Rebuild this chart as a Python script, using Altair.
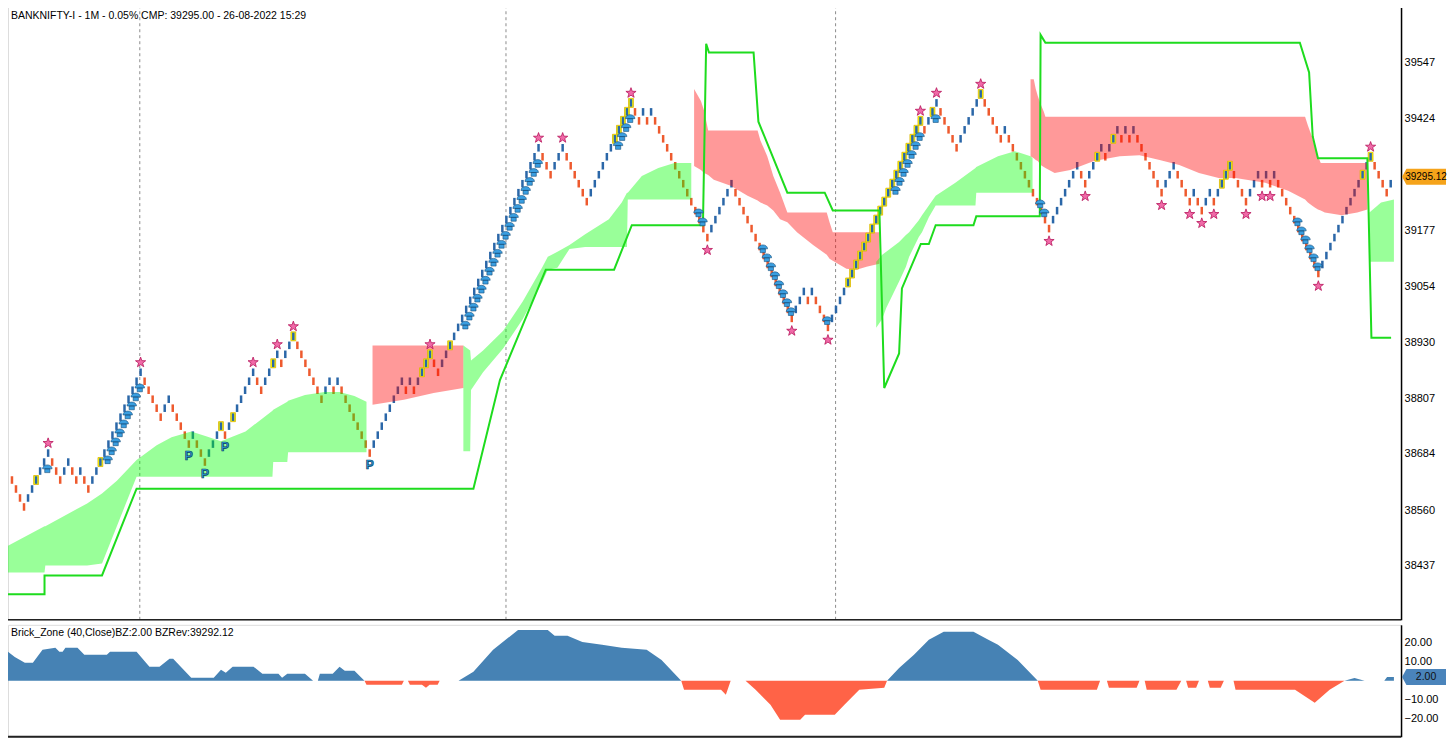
import altair as alt
import pandas as pd

# ---------------- layout ----------------
W = 1394
H_MAIN = 615
H_SUB = 112
X_DOMAIN = [-0.985, 345.57]
PRICE_DOMAIN = [38318.0, 39673.2]
BZ_DOMAIN = [-29.5, 29.5]
FONT = "Liberation Sans"

UP_COLOR = "#2b67a8"
DOWN_COLOR = "#ee5a2e"
GREEN = "#00ff00"
RED = "#ff0000"

# ---------------- text ----------------
TITLE_TEXT = "BANKNIFTY-I - 1M - 0.05% CMP: 39295.00 - 26-08-2022 15:29"
SUB_TEXT = "Brick_Zone (40,Close)BZ:2.00 BZRev:39292.12"
LAST_PRICE = [39295.12]
LAST_PRICE_LABEL = ["39295.12"]
LAST_BZ = [2.0]
LAST_BZ_LABEL = ["2.00"]
PRICE_TICKS = [38437, 38560, 38684, 38807, 38930, 39054, 39177, 39424, 39547]
BZ_TICKS = [-20, -10, 10, 20]

# ---------------- renko bricks ----------------
BRICK_SIZE = 19.8
BASE_PRICE = 38557.0
START_LEVEL = 5
RUN_LENGTHS = [-4, 6, -3, 2, -2, 1, -2, 13, -5, 2, -5, 1, -3, 4, -1, 7, -2, 4, -1, 3,
               -7, 2, -1, 1, -8, 8, -1, 1, -1, 4, -2, 25, -3, 3, -6, 11, -2, 1, -1, 1,
               -14, 6, -15, 3, -1, 1, -4, 23, -1, 3, -5, 6, -5, 1, -11, 7, -2, 4, -1, 3,
               -1, 1, -1, 1, -7, 3, -4, 1, -2, 2, -1, 4, -4, 3, -1, 1, -1, 1, -11, 13, -4, 1]
STAR_PIVOTS = [1, 7, 15, 17, 19, 29, 31, 33, 35, 40, 42, 46, 47, 49, 51, 54, 56, 64, 66,
               68, 70, 72, 74, 76, 78, 79]
P_PIVOTS = [10, 12, 14, 24]
UMBRELLA_BRICKS = [8, 23, 24, 25, 26, 27, 28, 29, 30, 31,
                   112, 113, 114, 115, 116, 117, 118, 119, 120, 121, 122, 123, 124, 125,
                   126, 127, 128, 129, 130, 150, 151, 152, 153, 171, 172,
                   187, 188, 189, 190, 191, 192, 193, 194, 203,
                   219, 220, 221, 222, 223, 224, 225, 229, 256, 257,
                   320, 321, 322, 323, 324, 325]
YELLOW_BRICKS = [6, 22, 52, 55, 65, 70, 102, 103, 104, 109, 150, 151, 152, 153, 154,
                 208, 209, 210, 211, 212, 213, 214, 215, 216, 217, 218, 219, 220, 221,
                 222, 223, 224, 225, 226, 229, 241, 270, 274, 301, 302, 303, 336, 338]
SESSION_BREAKS = [31.8, 122.9, 204.9]

# ---------------- zones ----------------
G1_IDX = [-1.0, 8.1, 8.3, 18.7, 22.4, 26.1, 31.0, 36.0, 39.7, 44.6, 48.3, 52.0, 58.1,
          64.8, 65.0, 68.5, 68.7, 72.9, 77.8, 81.5, 85.2, 88.2]
G1_TOP = [38481.1, 38524.6, 38524.6, 38574.7, 38596.4, 38624.7, 38670.4, 38703.0, 38720.4,
          38733.5, 38722.6, 38711.7, 38733.5, 38779.1, 38781.3, 38798.7, 38800.9, 38814.0,
          38820.5, 38820.5, 38811.8, 38798.7]
G1_BOT = [38422.4, 38422.4, 38437.6, 38437.6, 38442.0, 38524.6, 38633.4, 38633.4, 38633.4,
          38633.4, 38633.4, 38633.4, 38633.4, 38633.4, 38666.0, 38666.0, 38687.8, 38687.8,
          38687.8, 38687.8, 38687.8, 38687.8]

R1_IDX = [89.7, 97.5, 104.9, 112.3]
R1_TOP = [38922.7, 38922.7, 38922.7, 38922.7]
R1_BOT = [38792.2, 38803.1, 38818.3, 38829.2]

G2_IDX = [112.3, 114.0, 114.2, 117.2, 122.2, 127.1, 132.0, 133.3, 135.7, 138.7, 142.6,
          148.5, 151.7, 153.0, 153.2, 156.7, 160.8, 164.8, 169.0]
G2_TOP = [38922.7, 38911.8, 38890.1, 38911.8, 38955.4, 39020.6, 39096.7, 39118.5, 39129.4,
          39144.6, 39168.5, 39201.2, 39238.1, 39259.9, 39259.9, 39296.9, 39314.3, 39325.2,
          39325.2]
G2_BOT = [38690.0, 38690.0, 38824.8, 38864.0, 38916.2, 38981.5, 39064.1, 39090.2, 39094.6,
          39135.9, 39140.2, 39140.2, 39140.2, 39140.2, 39244.7, 39244.7, 39244.7, 39244.7,
          39244.7]

R2_IDX = [169.7, 171.4, 172.2, 173.2, 174.6, 178.8, 183.0, 185.5, 186.2, 187.9, 189.4,
          191.1, 192.9, 195.3, 199.3, 202.7, 203.4, 204.2, 207.6, 210.1, 212.6, 215.8]
R2_TOP = [39488.3, 39462.2, 39440.4, 39396.9, 39396.9, 39396.9, 39396.9, 39396.9, 39375.2,
          39340.4, 39296.9, 39259.9, 39216.4, 39216.4, 39216.4, 39216.4, 39194.6, 39172.9,
          39172.9, 39172.9, 39172.9, 39172.9]
R2_BOT = [39318.6, 39309.9, 39303.4, 39299.0, 39288.2, 39275.1, 39253.4, 39242.5, 39238.1,
          39231.6, 39220.7, 39201.2, 39194.6, 39172.9, 39144.6, 39122.9, 39114.1, 39109.8,
          39092.4, 39090.2, 39096.7, 39103.3]

G3_IDX = [215.0, 216.5, 217.5, 220.7, 222.4, 223.2, 225.6, 226.4, 228.1, 229.8, 234.7,
          239.7, 239.9, 240.4, 245.3, 249.5, 253.4, 253.9]
G3_TOP = [39107.6, 39122.8, 39129.4, 39151.1, 39166.4, 39172.9, 39199.0, 39209.9, 39231.6,
          39253.4, 39281.6, 39314.3, 39316.5, 39318.6, 39340.4, 39351.3, 39340.4, 39336.0]
G3_BOT = [38961.9, 38981.5, 39005.4, 39064.1, 39096.7, 39118.5, 39162.0, 39172.9, 39205.5,
          39231.6, 39231.6, 39231.6, 39259.9, 39259.9, 39259.9, 39259.9, 39259.9, 39259.9]

R3_IDX = [253.4, 254.2, 254.7, 255.2, 255.9, 256.7, 257.1, 259.4, 263.3, 269.2, 275.6,
          280.5, 285.5, 290.4, 295.3, 300.2, 304.4, 311.8, 317.5, 321.7, 322.4, 323.4,
          324.1, 324.9, 325.6, 326.6, 330.8, 334.7, 337.2]
R3_TOP = [39510.1, 39510.1, 39488.3, 39473.1, 39455.7, 39438.3, 39427.4, 39427.4, 39427.4,
          39427.4, 39427.4, 39427.4, 39427.4, 39427.4, 39427.4, 39427.4, 39427.4, 39427.4,
          39427.4, 39427.4, 39407.8, 39383.9, 39362.1, 39340.4, 39325.2, 39325.2, 39325.2,
          39325.2, 39325.2]
R3_BOT = [39340.4, 39336.0, 39331.7, 39329.5, 39320.8, 39316.5, 39314.3, 39303.4, 39309.9,
          39329.5, 39340.4, 39342.6, 39331.7, 39320.8, 39303.4, 39292.5, 39292.5, 39281.6,
          39264.2, 39244.7, 39238.1, 39231.6, 39227.3, 39222.9, 39220.7, 39216.4, 39209.9,
          39216.4, 39222.9]

G4_IDX = [337.7, 340.6, 343.8]
G4_TOP = [39216.4, 39238.1, 39244.7]
G4_BOT = [39107.6, 39107.6, 39107.6]

# ---------------- trailing line ----------------
TRAIL_IDX = [-1.0, 8.1, 8.1, 22.4, 31.0, 114.8, 121.4, 132.8, 149.8, 154.2, 171.9, 172.7,
             173.4, 184.5, 185.7, 192.9, 202.2, 204.2, 215.8, 217.0, 220.7, 221.4, 226.1,
             228.1, 229.8, 239.2, 239.9, 255.7, 255.9, 257.1, 320.4, 322.7, 323.6, 324.9,
             337.2, 338.2, 343.1]
TRAIL_PRICE = [38374.5, 38374.5, 38415.9, 38415.9, 38607.3, 38607.3, 38846.6, 39090.2,
               39090.2, 39188.1, 39188.1, 39588.4, 39568.8, 39568.8, 39416.5, 39259.9,
               39259.9, 39220.7, 39220.7, 38829.2, 38905.3, 39048.9, 39146.8, 39146.8,
               39188.1, 39188.1, 39207.7, 39207.7, 39607.9, 39590.5, 39590.5, 39525.3,
               39383.9, 39336.0, 39336.0, 38940.1, 38940.1]

# ---------------- brick zone oscillator ----------------
BZ_IDX = [-1.0, 0.7, 3.2, 5.2, 7.6, 10.8, 11.8, 12.6, 13.3, 16.3,
          18.0, 23.6, 24.4, 31.0, 34.2, 36.7, 39.2, 40.1, 44.6, 50.2,
          52.0, 53.2, 54.9, 60.1, 62.3, 66.3, 67.2, 68.5, 72.9, 74.9,
          76.1, 76.6, 79.8, 81.5, 82.8, 85.2, 87.7, 88.2, 97.0, 97.5,
          98.5, 99.0, 102.0, 103.0, 103.9, 105.9, 106.4, 111.1, 114.8, 119.7,
          125.9, 133.3, 135.0, 138.2, 141.9, 146.8, 151.7, 157.9, 161.6, 166.5,
          167.2, 176.4, 177.6, 178.8, 182.5, 185.0, 188.7, 191.1, 196.1, 197.3,
          204.7, 207.1, 210.8, 217.0, 217.7, 220.7, 224.4, 228.1, 231.8, 239.2,
          242.9, 245.3, 250.2, 255.2, 255.9, 269.9, 270.7, 272.4, 272.9, 279.8,
          280.5, 281.8, 282.3, 289.7, 290.9, 292.1, 292.6, 294.6, 295.3, 297.5,
          298.0, 300.7, 301.5, 303.9, 304.4, 319.2, 324.1, 327.8, 331.5, 334.0,
          336.5, 341.4, 342.1, 343.8]
BZ_VAL = [15.3, 12.6, 9.5, 9.5, 16.3, 17.4, 15.3, 15.3, 17.4, 17.4,
          13.7, 13.7, 15.3, 15.3, 7.4, 7.4, 11.6, 11.6, 1.6, 1.6,
          5.8, 4.2, 7.4, 7.4, 3.7, 3.7, 1.6, 3.7, 3.7, 0,
          0, 3.7, 3.7, 7.4, 5.3, 5.3, 0, -2.1, -2.1, 0,
          0, -2.1, -2.1, -3.7, -2.1, -2.1, 0, 0, 4.7, 16.3,
          26.8, 26.8, 23.7, 23.7, 20.5, 19.0, 17.4, 16.3, 11.0, 0,
          -4.7, -4.7, -7.4, 0, 0, -4.7, -12.6, -20.5, -20.5, -17.9,
          -17.9, -12.6, -4.7, -3.7, 0, 6.8, 13.7, 21.6, 25.8, 25.8,
          21.6, 19.0, 11.0, 0, -4.7, -4.7, 0, 0, -3.7, -3.7,
          0, 0, -4.7, -4.7, 0, 0, -3.7, -3.7, 0, 0,
          -3.7, -3.7, 0, 0, -4.7, -4.7, -11.6, -4.7, 0, 1.5,
          0, 0, 2.0, 2.0]

# ================= build tables =================
rows = []
level = START_LEVEL
prev = 1
i = 0
pivot_brick = []
for n in RUN_LENGTHS:
    d = 1 if n > 0 else -1
    for _ in range(abs(n)):
        level += d if d == prev else 2 * d
        prev = d
        lo, hi = (level - 1, level) if d > 0 else (level, level + 1)
        rows.append({"idx": i, "lo": BASE_PRICE + lo * BRICK_SIZE,
                     "hi": BASE_PRICE + hi * BRICK_SIZE, "d": d})
        i += 1
    pivot_brick.append(i - 1)
bricks = pd.DataFrame(rows)
bricks["y1"] = bricks["lo"] + 0.08 * BRICK_SIZE
bricks["y2"] = bricks["hi"] - 0.08 * BRICK_SIZE
bricks["col"] = bricks["d"].map({1: UP_COLOR, -1: DOWN_COLOR})

stars = []
for r in STAR_PIVOTS:
    b = bricks.iloc[pivot_brick[r]]
    y = b.hi + 0.6 * BRICK_SIZE if b.d > 0 else b.lo - 0.9 * BRICK_SIZE
    stars.append({"idx": b.idx, "y": y})
stars = pd.DataFrame(stars)

pmarks = []
for r in P_PIVOTS:
    b = bricks.iloc[pivot_brick[r]]
    pmarks.append({"idx": b.idx, "y": b.lo - 0.8 * BRICK_SIZE, "t": "P"})
pmarks = pd.DataFrame(pmarks)

umbs = []
for k in UMBRELLA_BRICKS:
    b = bricks.iloc[k]
    if b.d > 0:
        umbs.append({"idx": b.idx + 0.8, "y": b.lo - 0.2 * BRICK_SIZE})
    else:
        umbs.append({"idx": b.idx - 0.2, "y": b.hi + 0.3 * BRICK_SIZE})
umbs = pd.DataFrame(umbs)

yel = bricks.iloc[YELLOW_BRICKS].copy()
yel["xa"] = yel["idx"] - 0.6
yel["xb"] = yel["idx"] + 0.6

zone_rows = []
for name, xs, ts, bs, col in [("g1", G1_IDX, G1_TOP, G1_BOT, GREEN),
                              ("r1", R1_IDX, R1_TOP, R1_BOT, RED),
                              ("g2", G2_IDX, G2_TOP, G2_BOT, GREEN),
                              ("r2", R2_IDX, R2_TOP, R2_BOT, RED),
                              ("g3", G3_IDX, G3_TOP, G3_BOT, GREEN),
                              ("r3", R3_IDX, R3_TOP, R3_BOT, RED),
                              ("g4", G4_IDX, G4_TOP, G4_BOT, GREEN)]:
    for x, t, b in zip(xs, ts, bs):
        zone_rows.append({"zone": name, "idx": x, "top": t, "bot": b, "col": col})
zones = pd.DataFrame(zone_rows)

trail = pd.DataFrame({"idx": TRAIL_IDX, "p": TRAIL_PRICE, "o": list(range(len(TRAIL_IDX)))})
seps = pd.DataFrame({"idx": SESSION_BREAKS})
bz = pd.DataFrame({"idx": BZ_IDX, "v": BZ_VAL})
bz["pos"] = bz["v"].clip(lower=0)
bz["neg"] = bz["v"].clip(upper=0)
one = pd.DataFrame({"k": [0]})

# ================= encodings =================
XS = alt.Scale(domain=X_DOMAIN, nice=False, zero=False)
PS = alt.Scale(domain=PRICE_DOMAIN, nice=False, zero=False)
BS = alt.Scale(domain=BZ_DOMAIN, nice=False, zero=False)

price_axis = alt.Axis(orient="right", values=PRICE_TICKS, format="d", ticks=False, grid=False,
                      domainColor="#000000", domainWidth=1.5, labelColor="#000000",
                      labelFont=FONT, labelFontSize=11, labelPadding=3, labelOverlap=False,
                      labelFlush=False, title=None)
bz_axis = alt.Axis(orient="right", values=BZ_TICKS, format=".2f", ticks=False, grid=False,
                   domainColor="#000000", domainWidth=1.5, labelColor="#000000",
                   labelFont=FONT, labelFontSize=11, labelPadding=3, labelOverlap=False,
                   labelFlush=False, title=None)


def X(f):
    return alt.X(f + ":Q", scale=XS, axis=None, title=None)


def YP(f):
    return alt.Y(f + ":Q", scale=PS, axis=price_axis, title=None)


def YB(f):
    return alt.Y(f + ":Q", scale=BS, axis=bz_axis, title=None)


STAR_PATH = ("M0,-1 L0.235,-0.324 L0.951,-0.309 L0.38,0.124 L0.588,0.809 L0,0.4 "
             "L-0.588,0.809 L-0.38,0.124 L-0.951,-0.309 L-0.235,-0.324 Z")
UMB_PATH = "M-1,0.1 C-1,-1 1,-1 1,0.1 Z M-0.55,0.1 L0.55,0.1 L0.55,0.9 L-0.55,0.9 Z"
TAG_PATH = "M-1,0 L-0.8,-0.36 L1,-0.36 L1,0.36 L-0.8,0.36 Z"

sep_layer = alt.Chart(seps).mark_rule(strokeDash=[3, 3], color="#8c8c8c", strokeWidth=1).encode(
    x=X("idx"))
brick_layer = alt.Chart(bricks).mark_rule(strokeWidth=2.5).encode(
    x=X("idx"), y=YP("y1"), y2="y2:Q", color=alt.Color("col:N", scale=None))
zone_layer = alt.Chart(zones).mark_area(opacity=0.4, interpolate="linear").encode(
    x=X("idx"), y=YP("top"), y2="bot:Q", color=alt.Color("col:N", scale=None),
    detail="zone:N")
yel_layer = alt.Chart(yel).mark_rect(fill="#ffff00", stroke="#d9b400", strokeWidth=0.8).encode(
    x=X("xa"), x2="xb:Q", y=YP("lo"), y2="hi:Q")
yel_brick_layer = alt.Chart(yel).mark_rule(strokeWidth=2.5).encode(
    x=X("idx"), y=YP("y1"), y2="y2:Q", color=alt.Color("col:N", scale=None))
trail_layer = alt.Chart(trail).mark_line(color="#1edc1e", strokeWidth=2).encode(
    x=X("idx"), y=YP("p"), order="o:Q")
umb_layer = alt.Chart(umbs).mark_point(shape=UMB_PATH, filled=True, size=90, color="#3a9ee0",
                                       stroke="#174f7a", strokeWidth=0.6, opacity=1).encode(
    x=X("idx"), y=YP("y"))
star_layer = alt.Chart(stars).mark_point(shape=STAR_PATH, filled=True, size=115, color="#f06aa8",
                                         stroke="#b8145a", strokeWidth=0.8, opacity=1).encode(
    x=X("idx"), y=YP("y"))
p_layer = alt.Chart(pmarks).mark_text(fontSize=12, fontWeight="bold", font=FONT, color="#29a3e6",
                                      stroke="#0b3a5e", strokeWidth=0.7).encode(
    x=X("idx"), y=YP("y"), text="t:N")
title_layer = alt.Chart(pd.DataFrame({"t": [TITLE_TEXT]})).mark_text(
    align="left", baseline="middle", font=FONT, fontSize=10.5, color="#000000").encode(
    x=alt.value(3), y=alt.value(11), text="t:N")
top_border = alt.Chart(one).mark_rule(color="#222222", strokeWidth=1.5).encode(
    x=alt.value(0), x2=alt.value(W), y=alt.value(0))
bot_border = alt.Chart(one).mark_rule(color="#222222", strokeWidth=1.5).encode(
    x=alt.value(0), x2=alt.value(W), y=alt.value(H_MAIN))
tag_layer = alt.Chart(pd.DataFrame({"p": LAST_PRICE, "t": LAST_PRICE_LABEL})).mark_point(
    shape=TAG_PATH, filled=True, size=1936, color="#f5a31a", opacity=1).encode(
    x=alt.value(W + 23), y=YP("p"))
tag_text = alt.Chart(pd.DataFrame({"p": LAST_PRICE, "t": LAST_PRICE_LABEL})).mark_text(
    align="center", baseline="middle", font=FONT, fontSize=10, color="#000000").encode(
    x=alt.value(W + 25), y=YP("p"), text="t:N")

main = alt.layer(sep_layer, brick_layer, zone_layer, yel_layer, yel_brick_layer, trail_layer,
                 umb_layer, star_layer, p_layer, title_layer, top_border, bot_border,
                 tag_layer, tag_text).properties(width=W, height=H_MAIN)

pos_layer = alt.Chart(bz).mark_area(color="#4682b4", opacity=1).encode(
    x=X("idx"), y=YB("pos"))
neg_layer = alt.Chart(bz).mark_area(color="#ff6347", opacity=1).encode(
    x=X("idx"), y=YB("neg"))
sub_label = alt.Chart(pd.DataFrame({"t": [SUB_TEXT]})).mark_text(
    align="left", baseline="middle", font=FONT, fontSize=10.5, color="#000000").encode(
    x=alt.value(3), y=alt.value(8), text="t:N")
sub_bot = alt.Chart(one).mark_rule(color="#222222", strokeWidth=2).encode(
    x=alt.value(0), x2=alt.value(W), y=alt.value(H_SUB))
sub_tag = alt.Chart(pd.DataFrame({"v": LAST_BZ, "t": LAST_BZ_LABEL})).mark_point(
    shape=TAG_PATH, filled=True, size=1936, color="#4a84bb", opacity=1).encode(
    x=alt.value(W + 23), y=YB("v"))
sub_tag_text = alt.Chart(pd.DataFrame({"v": LAST_BZ, "t": LAST_BZ_LABEL})).mark_text(
    align="center", baseline="middle", font=FONT, fontSize=10.5, color="#111111").encode(
    x=alt.value(W + 25), y=YB("v"), text="t:N")

sub = alt.layer(pos_layer, neg_layer, sub_label, sub_bot, sub_tag, sub_tag_text).properties(
    width=W, height=H_SUB)

chart = alt.vconcat(main, sub, spacing=2).properties(
    padding={"left": -5, "top": -5, "right": 0, "bottom": 0}).configure_view(
    strokeWidth=0).configure(background="white")

chart.save("out.html", embed_options={"renderer": "svg", "actions": False})
